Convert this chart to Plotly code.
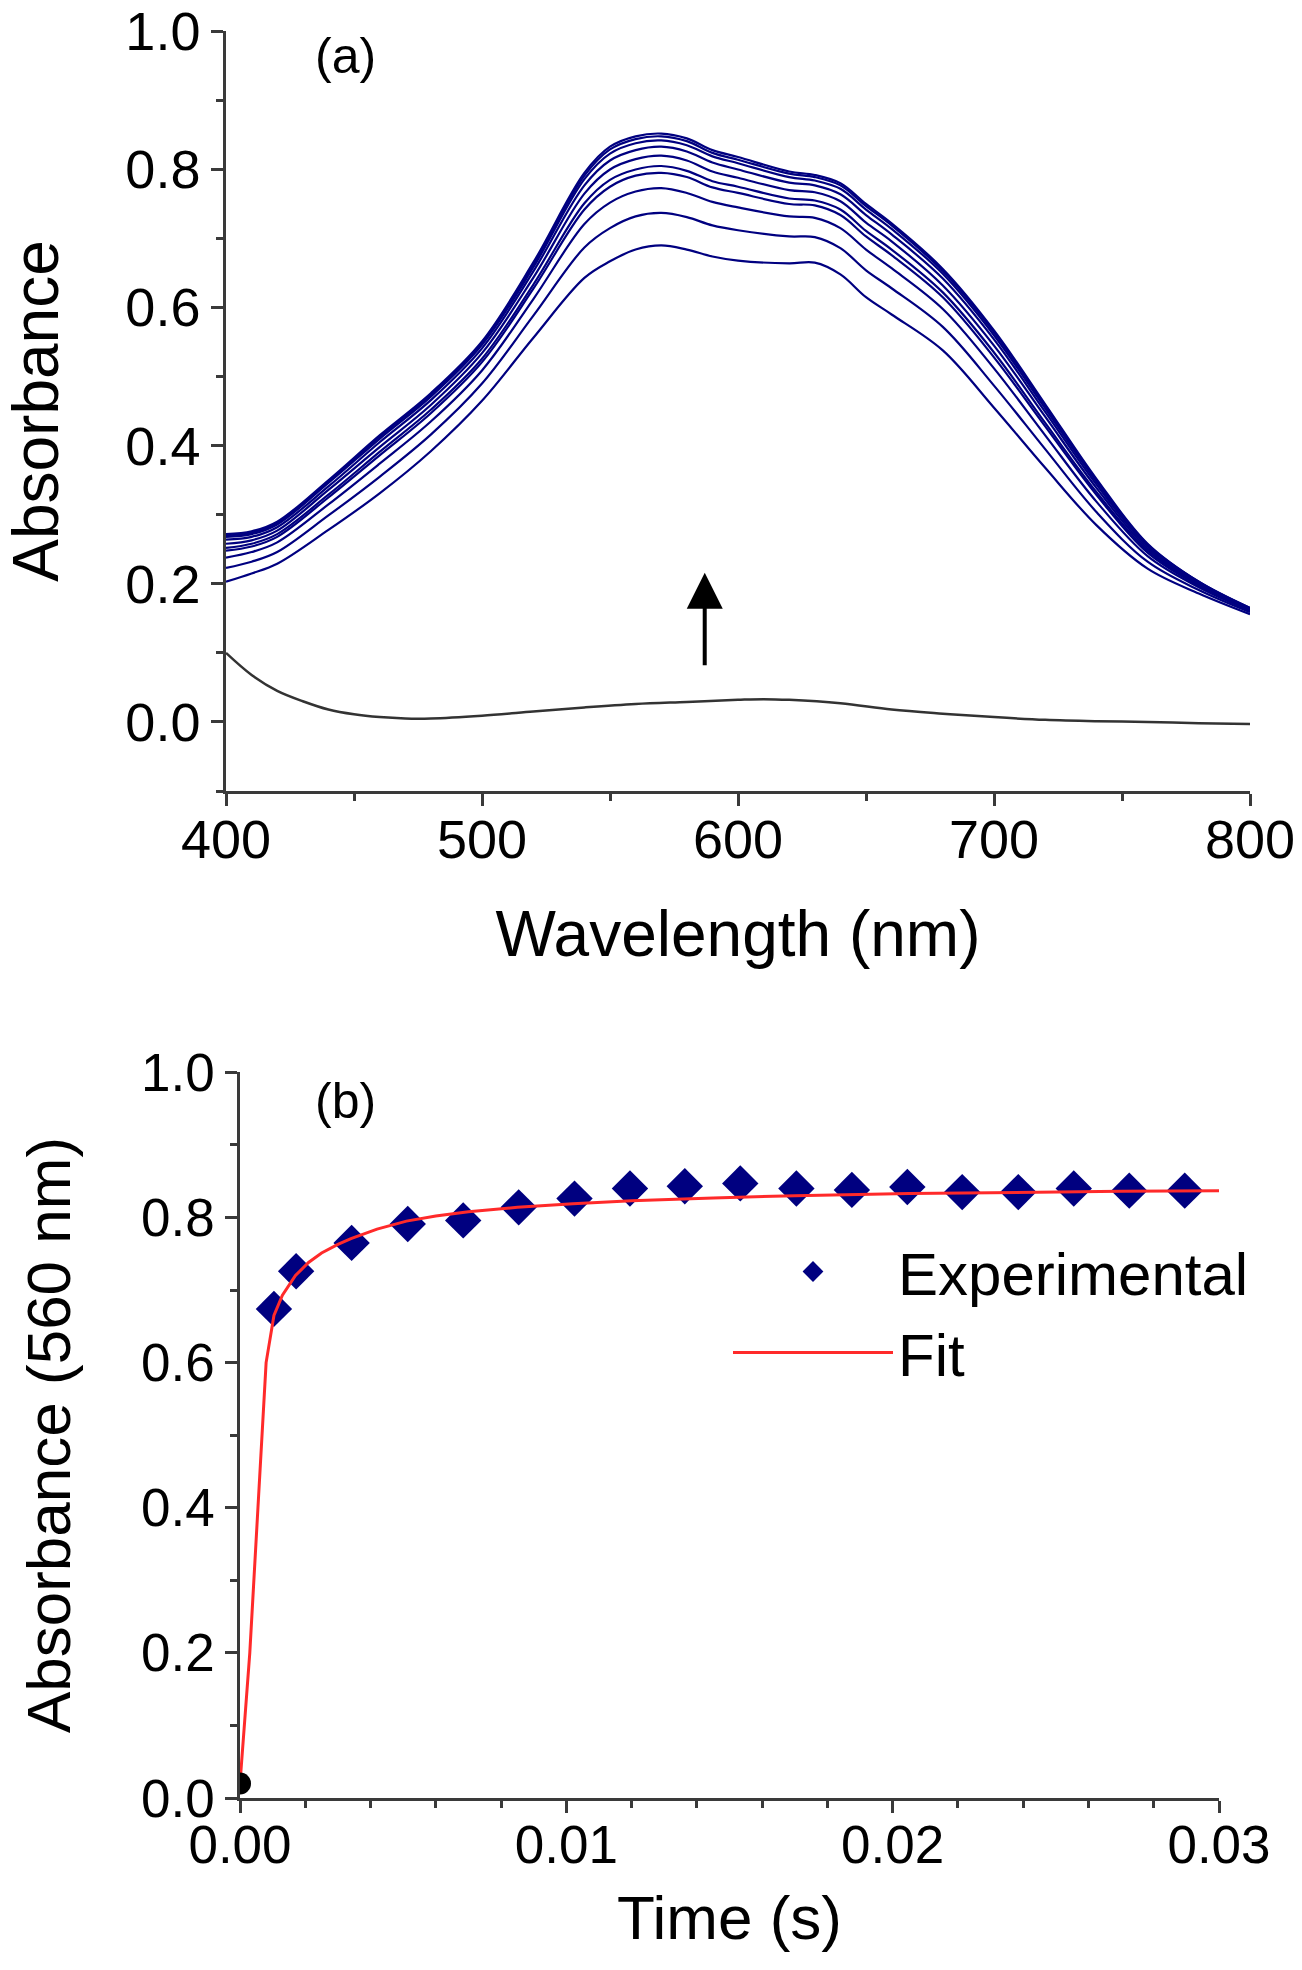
import plotly.graph_objects as go

# ---------------- Panel (a): UV-vis spectra ----------------
wavelength = [400, 410, 420, 440, 460, 480, 500, 520, 540, 550, 560, 570, 580, 590,
              600, 620, 630, 640, 650, 660, 680, 700, 720, 740, 760, 780, 800]

spec_01 = [0.203, 0.215, 0.229, 0.278, 0.331, 0.392, 0.465, 0.556, 0.643, 0.667, 0.684, 0.690, 0.684, 0.674,
           0.668, 0.664, 0.665, 0.648, 0.615, 0.590, 0.538, 0.455, 0.368, 0.285, 0.222, 0.186, 0.156]
spec_02 = [0.223, 0.232, 0.246, 0.299, 0.355, 0.416, 0.490, 0.588, 0.687, 0.715, 0.732, 0.737, 0.731, 0.719,
           0.712, 0.703, 0.702, 0.686, 0.654, 0.628, 0.572, 0.487, 0.395, 0.304, 0.232, 0.191, 0.159]
spec_03 = [0.238, 0.246, 0.260, 0.315, 0.374, 0.435, 0.509, 0.612, 0.721, 0.752, 0.768, 0.773, 0.766, 0.753,
           0.745, 0.732, 0.730, 0.715, 0.684, 0.657, 0.598, 0.512, 0.415, 0.319, 0.240, 0.195, 0.161]
spec_04 = [0.248, 0.254, 0.268, 0.325, 0.386, 0.447, 0.521, 0.627, 0.742, 0.775, 0.791, 0.795, 0.789, 0.774,
           0.766, 0.750, 0.748, 0.734, 0.703, 0.676, 0.615, 0.528, 0.428, 0.329, 0.245, 0.197, 0.162]
spec_05 = [0.252, 0.258, 0.272, 0.329, 0.391, 0.452, 0.526, 0.633, 0.751, 0.785, 0.800, 0.805, 0.798, 0.783,
           0.775, 0.758, 0.755, 0.742, 0.711, 0.684, 0.622, 0.535, 0.433, 0.333, 0.248, 0.198, 0.162]
spec_06 = [0.258, 0.263, 0.277, 0.336, 0.398, 0.459, 0.534, 0.643, 0.765, 0.800, 0.815, 0.820, 0.813, 0.797,
           0.788, 0.770, 0.767, 0.754, 0.723, 0.696, 0.632, 0.545, 0.442, 0.339, 0.251, 0.200, 0.163]
spec_07 = [0.264, 0.268, 0.282, 0.341, 0.405, 0.466, 0.541, 0.652, 0.777, 0.813, 0.828, 0.833, 0.826, 0.810,
           0.800, 0.781, 0.777, 0.764, 0.734, 0.706, 0.642, 0.554, 0.449, 0.344, 0.254, 0.201, 0.164]
spec_08 = [0.268, 0.272, 0.286, 0.346, 0.410, 0.471, 0.546, 0.658, 0.786, 0.823, 0.838, 0.842, 0.835, 0.819,
           0.809, 0.789, 0.784, 0.772, 0.742, 0.714, 0.649, 0.560, 0.454, 0.348, 0.256, 0.202, 0.164]
spec_09 = [0.270, 0.274, 0.288, 0.348, 0.413, 0.474, 0.549, 0.662, 0.791, 0.829, 0.844, 0.848, 0.841, 0.824,
           0.814, 0.794, 0.789, 0.777, 0.747, 0.719, 0.653, 0.564, 0.458, 0.350, 0.257, 0.203, 0.165]
spec_10 = [0.272, 0.276, 0.290, 0.350, 0.415, 0.476, 0.551, 0.665, 0.795, 0.833, 0.848, 0.852, 0.845, 0.828,
           0.818, 0.797, 0.792, 0.780, 0.750, 0.722, 0.656, 0.567, 0.460, 0.352, 0.258, 0.203, 0.165]

baseline_wl = [400, 410, 420, 430, 440, 450, 460, 470, 480, 500, 520, 540, 560, 580, 600, 610,
               620, 640, 660, 680, 700, 720, 740, 760, 780, 800]
baseline_abs = [0.100, 0.068, 0.045, 0.030, 0.018, 0.011, 0.007, 0.005, 0.005, 0.009, 0.015, 0.021, 0.026,
                0.029, 0.032, 0.033, 0.032, 0.027, 0.018, 0.012, 0.007, 0.003, 0.001, 0.000, -0.002, -0.003]

# ---------------- Panel (b): kinetics at 560 nm ----------------
time_exp = [0.00104, 0.00172, 0.00342, 0.00514, 0.00684, 0.00854, 0.01025, 0.01195, 0.01363,
            0.01533, 0.01705, 0.01875, 0.02045, 0.02213, 0.02385, 0.02555, 0.02725, 0.02895]
abs_exp = [0.674, 0.726, 0.765, 0.791, 0.796, 0.814, 0.826, 0.840, 0.843,
           0.847, 0.840, 0.838, 0.842, 0.835, 0.835, 0.840, 0.837, 0.837]

time_fit = [0.0, 0.0003, 0.00055, 0.0008, 0.00104, 0.0013, 0.0017, 0.0021, 0.0025, 0.003, 0.0034,
            0.0042, 0.0051, 0.006, 0.007, 0.0085, 0.0102, 0.012, 0.0145, 0.017, 0.0205, 0.024, 0.027, 0.030]
abs_fit = [0.02, 0.20, 0.40, 0.60, 0.665, 0.693, 0.720, 0.738, 0.751, 0.763, 0.771,
           0.784, 0.795, 0.802, 0.808, 0.814, 0.819, 0.823, 0.827, 0.830, 0.833, 0.835, 0.836, 0.837]

time_zero = [0.0]
abs_zero = [0.02]

spectra = [spec_01, spec_02, spec_03, spec_04, spec_05, spec_06, spec_07, spec_08, spec_09, spec_10]

NAVY = "rgb(0,0,128)"
AXC = "#3a3a3a"
FONT = "Arial, 'Liberation Sans', sans-serif"

# the page body margin is removed (see write_html below), so layout uses the reference pixels directly
W, H = 1302, 1970


def px_x(px):
    return px / W


def px_y(py):
    return (H - py) / H


fig = go.Figure()

for s in spectra:
    fig.add_trace(go.Scatter(x=wavelength, y=s, mode="lines", line=dict(color=NAVY, width=2.2),
                             line_shape="spline", showlegend=False, xaxis="x", yaxis="y"))
fig.add_trace(go.Scatter(x=baseline_wl, y=baseline_abs, mode="lines", line=dict(color="#333333", width=2.5),
                         line_shape="spline", showlegend=False, xaxis="x", yaxis="y"))

fig.add_trace(go.Scatter(x=time_exp, y=abs_exp, mode="markers", name="Experimental",
                         marker=dict(symbol="diamond", size=28, color=NAVY),
                         xaxis="x2", yaxis="y2"))
fig.add_trace(go.Scatter(x=time_fit, y=abs_fit, mode="lines", name="Fit",
                         line=dict(color="#ff2a2a", width=3),
                         xaxis="x2", yaxis="y2"))
fig.add_trace(go.Scatter(x=time_zero, y=abs_zero, mode="markers", showlegend=False,
                         marker=dict(symbol="circle", size=22, color="black"),
                         xaxis="x2", yaxis="y2"))


def axis_common():
    return dict(showline=True, linecolor=AXC, linewidth=2.5, ticks="outside", ticklen=12,
                tickwidth=2.5, tickcolor=AXC, showgrid=False, zeroline=False, automargin=False,
                ticklabeloverflow="allow",
                tickfont=dict(family=FONT, size=54, color="black"), mirror=False)


xa = axis_common()
xa.update(domain=[px_x(226), px_x(1250)], range=[400, 800], tick0=400, dtick=100, anchor="y",
          ticklabelstandoff=-13,
          minor=dict(dtick=50, ticklen=7, tickwidth=2.5, tickcolor=AXC, ticks="outside"),
          title=dict(text="Wavelength (nm)", font=dict(family=FONT, size=64, color="black"), standoff=44))
ya = axis_common()
ya.update(domain=[px_y(791), px_y(31)], range=[-0.1, 1.0005], tick0=0, dtick=0.2, tickformat=".1f",
          anchor="x",
          minor=dict(dtick=0.1, ticklen=7, tickwidth=2.5, tickcolor=AXC, ticks="outside"),
          title=dict(text="Absorbance", font=dict(family=FONT, size=64, color="black"), standoff=57))

xb = axis_common()
xb.update(domain=[px_x(240), px_x(1219)], range=[0, 0.03], tick0=0, dtick=0.01, tickformat=".2f", anchor="y2",
          tickfont=dict(family=FONT, size=53, color="black"), ticklabelstandoff=-13,
          minor=dict(dtick=0.002, ticklen=7, tickwidth=2.5, tickcolor=AXC, ticks="outside"),
          title=dict(text="Time (s)", font=dict(family=FONT, size=62, color="black"), standoff=23))
yb = axis_common()
yb.update(domain=[px_y(1798), px_y(1072)], range=[0, 1.0005], tick0=0, dtick=0.2, tickformat=".1f",
          anchor="x2", tickfont=dict(family=FONT, size=53, color="black"),
          minor=dict(dtick=0.1, ticklen=7, tickwidth=2.5, tickcolor=AXC, ticks="outside"),
          title=dict(text="Absorbance (560 nm)", font=dict(family=FONT, size=62, color="black"), standoff=51))

fig.update_layout(
    width=W, height=H,
    margin=dict(l=0, r=0, t=0, b=0),
    paper_bgcolor="white", plot_bgcolor="white",
    xaxis=xa, yaxis=ya, xaxis2=xb, yaxis2=yb,
    showlegend=True,
    legend=dict(x=px_x(728), y=px_y(1226), xanchor="left", yanchor="top",
                font=dict(family=FONT, size=60, color="black"), bgcolor="rgba(0,0,0,0)",
                itemwidth=160, tracegroupgap=0),
    annotations=[
        dict(text="(a)", x=px_x(346), y=px_y(56), xref="paper", yref="paper", showarrow=False,
             font=dict(family=FONT, size=50, color="black"), xanchor="center", yanchor="middle"),
        dict(text="(b)", x=px_x(345), y=px_y(1101), xref="paper", yref="paper", showarrow=False,
             font=dict(family=FONT, size=50, color="black"), xanchor="center", yanchor="middle"),
        dict(text="", x=587, y=0.216, ax=587, ay=0.08, xref="x", yref="y", axref="x", ayref="y",
             showarrow=True, arrowhead=2, arrowsize=1.8, arrowwidth=4, arrowcolor="black"),
    ],
)

fig.write_html("out.html", config={"displayModeBar": False},
               post_script="document.body.style.margin='0';")
